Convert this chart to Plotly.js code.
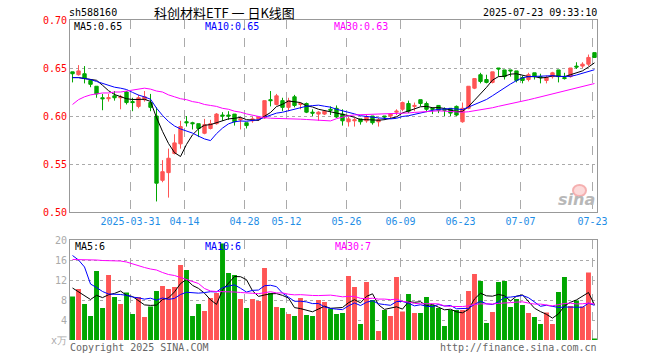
<!DOCTYPE html>
<html>
<head>
<meta charset="utf-8">
<script src="https://cdn.plot.ly/plotly-3.0.1.min.js"></script>
<style>html,body{margin:0;padding:0;background:#fff;}#chart{width:660px;height:360px;}</style>
</head>
<body>
<div id="chart"></div>
<script>
const dates = [
 "2025-03-17","2025-03-18","2025-03-19","2025-03-20","2025-03-21","2025-03-24","2025-03-25","2025-03-26","2025-03-27","2025-03-28","2025-03-31",
 "2025-04-01","2025-04-02","2025-04-03","2025-04-07","2025-04-08","2025-04-09","2025-04-10","2025-04-11","2025-04-14","2025-04-15","2025-04-16","2025-04-17","2025-04-18","2025-04-21","2025-04-22","2025-04-23","2025-04-24","2025-04-25","2025-04-28","2025-04-29","2025-04-30",
 "2025-05-06","2025-05-07","2025-05-08","2025-05-09","2025-05-12","2025-05-13","2025-05-14","2025-05-15","2025-05-16","2025-05-19","2025-05-20","2025-05-21","2025-05-22","2025-05-23","2025-05-26","2025-05-27","2025-05-28","2025-05-29","2025-05-30",
 "2025-06-03","2025-06-04","2025-06-05","2025-06-06","2025-06-09","2025-06-10","2025-06-11","2025-06-12","2025-06-13","2025-06-16","2025-06-17","2025-06-18","2025-06-19","2025-06-20","2025-06-23","2025-06-24","2025-06-25","2025-06-26","2025-06-27","2025-06-30",
 "2025-07-01","2025-07-02","2025-07-03","2025-07-04","2025-07-07","2025-07-08","2025-07-09","2025-07-10","2025-07-11","2025-07-14","2025-07-15","2025-07-16","2025-07-17","2025-07-18","2025-07-21","2025-07-22","2025-07-23"
];
const openP = [
 0.646,0.643,0.644,0.637,0.631,0.619,0.618,0.621,0.619,0.625,
 0.615,0.610,0.617,0.614,0.600,0.533,0.541,0.561,0.571,0.594,
 0.593,0.592,0.582,0.587,0.592,0.601,0.601,0.602,0.596,0.593,
 0.595,0.597,0.598,0.617,0.612,0.616,0.609,0.620,0.612,0.613,
 0.604,0.602,0.602,0.607,0.608,0.602,0.594,0.595,0.597,0.595,
 0.600,0.594,0.600,0.600,0.604,0.607,0.613,0.610,0.617,0.613,
 0.608,0.611,0.607,0.608,0.610,0.594,0.608,0.629,0.643,0.638,
 0.635,0.650,0.648,0.648,0.647,0.640,0.638,0.645,0.641,0.637,
 0.641,0.648,0.640,0.641,0.652,0.652,0.654,0.666
];
const highP = [
 0.646,0.653,0.652,0.637,0.631,0.623,0.623,0.626,0.622,0.626,
 0.619,0.622,0.626,0.623,0.609,0.554,0.566,0.581,0.595,0.600,
 0.594,0.592,0.597,0.596,0.603,0.604,0.605,0.602,0.599,0.593,
 0.599,0.600,0.616,0.626,0.623,0.619,0.619,0.622,0.614,0.614,
 0.607,0.605,0.606,0.610,0.611,0.607,0.599,0.598,0.597,0.601,
 0.600,0.598,0.600,0.603,0.607,0.615,0.616,0.614,0.617,0.615,
 0.609,0.611,0.609,0.608,0.611,0.614,0.631,0.639,0.645,0.643,
 0.646,0.650,0.648,0.648,0.647,0.642,0.645,0.645,0.644,0.642,
 0.646,0.648,0.645,0.650,0.656,0.656,0.664,0.666
];
const lowP = [
 0.635,0.642,0.634,0.630,0.619,0.606,0.615,0.616,0.607,0.612,
 0.605,0.608,0.615,0.605,0.511,0.531,0.515,0.560,0.566,0.589,
 0.586,0.578,0.581,0.586,0.591,0.595,0.596,0.590,0.586,0.587,
 0.593,0.595,0.597,0.610,0.611,0.605,0.605,0.609,0.607,0.603,
 0.600,0.595,0.601,0.601,0.598,0.590,0.589,0.589,0.591,0.593,
 0.591,0.589,0.596,0.598,0.601,0.605,0.603,0.605,0.610,0.604,
 0.602,0.603,0.600,0.600,0.600,0.593,0.607,0.628,0.634,0.634,
 0.634,0.641,0.638,0.641,0.635,0.634,0.636,0.638,0.634,0.634,
 0.639,0.635,0.638,0.640,0.649,0.650,0.652,0.661
];
const closeP = [
 0.644,0.647,0.639,0.633,0.623,0.618,0.619,0.619,0.620,0.614,
 0.614,0.619,0.620,0.609,0.530,0.542,0.556,0.572,0.589,0.593,
 0.592,0.587,0.591,0.592,0.602,0.600,0.600,0.594,0.597,0.590,
 0.597,0.599,0.616,0.616,0.621,0.609,0.616,0.611,0.613,0.604,
 0.603,0.604,0.605,0.606,0.599,0.595,0.597,0.596,0.594,0.599,
 0.593,0.596,0.599,0.602,0.605,0.614,0.605,0.611,0.613,0.607,
 0.607,0.606,0.606,0.603,0.601,0.608,0.631,0.639,0.636,0.635,
 0.646,0.649,0.641,0.647,0.637,0.637,0.643,0.641,0.640,0.640,
 0.645,0.641,0.639,0.650,0.651,0.654,0.661,0.661
];
// volume, unit: 万
const volume = [
 8.7,10.2,7.2,4.8,13.8,6.4,13.0,8.6,7.2,9.5,
 5.2,8.6,4.6,6.7,9.8,10.8,10.2,10.6,15.0,14.0,
 4.8,7.2,5.8,8.4,9.4,19.3,13.4,13.0,8.2,6.4,
 8.2,7.8,14.4,9.4,6.6,6.4,5.2,4.8,8.4,5.0,
 4.8,8.0,7.6,6.3,5.2,5.4,12.8,10.6,3.2,11.6,
 8.0,1.8,6.0,4.8,12.6,5.7,9.2,5.4,5.4,8.6,
 7.0,6.4,2.8,6.0,6.0,6.0,9.8,13.2,11.8,3.4,
 5.6,11.6,11.8,6.6,8.2,7.0,5.4,4.6,3.2,5.5,
 3.2,9.6,12.6,6.8,7.9,6.7,13.5,0.3
];
const ma5Head  = [0.640,0.640,0.639,0.638];
const ma10Head = [0.640,0.640,0.639,0.638,0.636,0.634,0.632,0.630,0.629];
const ma30Head = [0.612,0.617,0.620,0.622,0.623,0.624,0.624,0.625,0.625,0.626,
                  0.627,0.628,0.629,0.628,0.626,0.625,0.622,0.620,0.618,0.617,
                  0.615,0.614,0.612,0.611,0.610,0.608,0.607,0.605,0.604];
const vma5Head  = [10.4,9.6,8.8,8.1];
const vma10Head = [16.9,16.0,14.6,11.2,10.5,9.7,9.2,9.2,9.1];
const vma30Head = [16.1,16.1,16.1,16.0,16.0,15.9,15.9,15.8,15.8,15.6,
                   15.2,14.8,14.5,14.2,14.0,13.5,13.1,12.9,12.5,12.1,
                   11.8,11.3,10.3,9.8,9.7,9.7,9.6,9.6,9.5];
const tickDates = ["2025-03-31","2025-04-14","2025-04-28","2025-05-12","2025-05-26","2025-06-09","2025-06-23","2025-07-07","2025-07-23"];
const tickLabels = ["2025-03-31","04-14","04-28","05-12","05-26","06-09","06-23","07-07","07-23"];
const priceTicks = [0.50,0.55,0.60,0.65,0.70];
const priceTickText = ["0.50","0.55","0.60","0.65","0.70"];
const volTicks = [0,4,8,12,16,20];
const volTickText = ["x万","4","8","12","16","20"];

function rolling(arr, n, head) {
  return arr.map((_, i) => {
    if (i < n - 1) return head[i];
    let s = 0; for (let k = i - n + 1; k <= i; k++) s += arr[k];
    return s / n;
  });
}

const idx = dates.map((d, i) => i);
const tickIdx = tickDates.map(d => dates.indexOf(d) - 0.33);
const RED = '#ff5555', GREEN = '#00a600';
const volColors = closeP.map((c, i) => c >= openP[i] ? RED : GREEN);
const MONO = 'DejaVu Sans Mono';

const traces = [
  {type:'candlestick', x: idx, open: openP, high: highP, low: lowP, close: closeP,
   xaxis:'x', yaxis:'y', whiskerwidth: 0,
   increasing:{line:{color:RED,width:1}, fillcolor:RED},
   decreasing:{line:{color:GREEN,width:1}, fillcolor:GREEN}, hoverinfo:'skip'},
  {type:'scatter', mode:'lines', x: idx, y: rolling(closeP,5,ma5Head), line:{color:'#000000',width:1}, xaxis:'x', yaxis:'y'},
  {type:'scatter', mode:'lines', x: idx, y: rolling(closeP,10,ma10Head), line:{color:'#0000ff',width:1}, xaxis:'x', yaxis:'y'},
  {type:'scatter', mode:'lines', x: idx, y: rolling(closeP,30,ma30Head), line:{color:'#ff00ff',width:1}, xaxis:'x', yaxis:'y'},
  {type:'bar', x: idx, y: volume, marker:{color: volColors, line:{width:0}}, width:0.82, xaxis:'x2', yaxis:'y2'},
  {type:'scatter', mode:'lines', x: idx, y: rolling(volume,5,vma5Head), line:{color:'#000000',width:1}, xaxis:'x2', yaxis:'y2'},
  {type:'scatter', mode:'lines', x: idx, y: rolling(volume,10,vma10Head), line:{color:'#0000ff',width:1}, xaxis:'x2', yaxis:'y2'},
  {type:'scatter', mode:'lines', x: idx, y: rolling(volume,30,vma30Head), line:{color:'#ff00ff',width:1}, xaxis:'x2', yaxis:'y2'}
];

const W = 660, H = 360;
const px = v => v / W, py = v => 1 - v / H;
const xr = [-0.42, 87.42];
function ann(text, x, y, anchor, color, size, family) {
  return {text, x: px(x), y: py(y), xref:'paper', yref:'paper', xanchor: anchor, yanchor:'middle',
          showarrow:false, font:{family: family || MONO, size: size || 10, color: color || '#000'}, borderpad:0};
}

const layout = {
  width: W, height: H, margin:{l:0,r:0,t:0,b:0}, paper_bgcolor:'#fff', plot_bgcolor:'#fff',
  showlegend:false, boxgap:0.2, bargap:0.18,
  xaxis:{domain:[px(70), px(597)], range: xr, anchor:'y', rangeslider:{visible:false},
         tickmode:'array', tickvals: tickIdx, ticktext: tickLabels, ticks:'',
         tickfont:{family:MONO, size:10, color:'#1f8ee6'},
         showgrid:true, gridcolor:'#aaaaaa', griddash:'dash', gridwidth:1,
         showline:true, linecolor:'#999999', linewidth:1, mirror:true, zeroline:false},
  yaxis:{domain:[1 - 212/H, 1 - 20/H], range:[0.50,0.70], anchor:'x',
         tickmode:'array', tickvals: priceTicks, ticktext: priceTickText, ticks:'',
         tickfont:{family:MONO, size:10, color:'#ff0000'},
         showgrid:true, gridcolor:'#aaaaaa', griddash:'dot', gridwidth:1,
         showline:true, linecolor:'#999999', linewidth:1, mirror:true, zeroline:false},
  xaxis2:{domain:[px(70), px(597)], range: xr, anchor:'y2', side:'top',
         tickmode:'array', tickvals: tickIdx, showticklabels:false, ticks:'',
         showgrid:true, gridcolor:'#aaaaaa', griddash:'dash', gridwidth:1,
         showline:true, linecolor:'#999999', linewidth:1, zeroline:false},
  yaxis2:{domain:[1 - 340/H, 1 - 240/H], range:[0,20], anchor:'x2',
         tickmode:'array', tickvals: volTicks, ticktext: volTickText, ticks:'',
         tickfont:{family:MONO, size:10, color:'#aaaaaa'},
         showgrid:true, gridcolor:'#aaaaaa', griddash:'dot', gridwidth:1,
         showline:true, linecolor:'#999999', linewidth:1, mirror:true, zeroline:false},
  annotations:[
    ann('sh588160', 68, 13, 'left', '#000'),
    ann('科创材料ETF 一 日K线图', 224, 13, 'center', '#000', 13, 'Noto Sans CJK SC'),
    ann('2025-07-23 09:33:10', 598, 13, 'right', '#000'),
    ann('MA5:0.65', 73, 27, 'left', '#000000'),
    ann('MA10:0.65', 204, 27, 'left', '#0000ff'),
    ann('MA30:0.63', 333, 27, 'left', '#ff00ff'),
    ann('MA5:6', 74, 246, 'left', '#000000'),
    ann('MA10:6', 204, 246, 'left', '#0000ff'),
    ann('MA30:7', 334, 246, 'left', '#ff00ff'),
    ann('Copyright 2025 SINA.COM', 69, 347, 'left', '#666666'),
    ann('http://finance.sina.com.cn', 598, 347, 'right', '#666666'),
    {text:'<b><i>sina</i></b>', x: px(597), y: py(199), xref:'paper', yref:'paper', xanchor:'right', yanchor:'middle',
     showarrow:false, font:{family:'DejaVu Sans', size:16, color:'#b8b8b8'}}
  ],
  shapes:[
    {type:'circle', xref:'paper', yref:'paper', x0: px(573), x1: px(586), y0: py(196), y1: py(185),
     line:{color:'#f5b0b0', width:2}, fillcolor:'rgba(245,150,150,0.35)'}
  ]
};
Plotly.newPlot('chart', traces, layout, {staticPlot:true, displayModeBar:false});
</script>
</body>
</html>
